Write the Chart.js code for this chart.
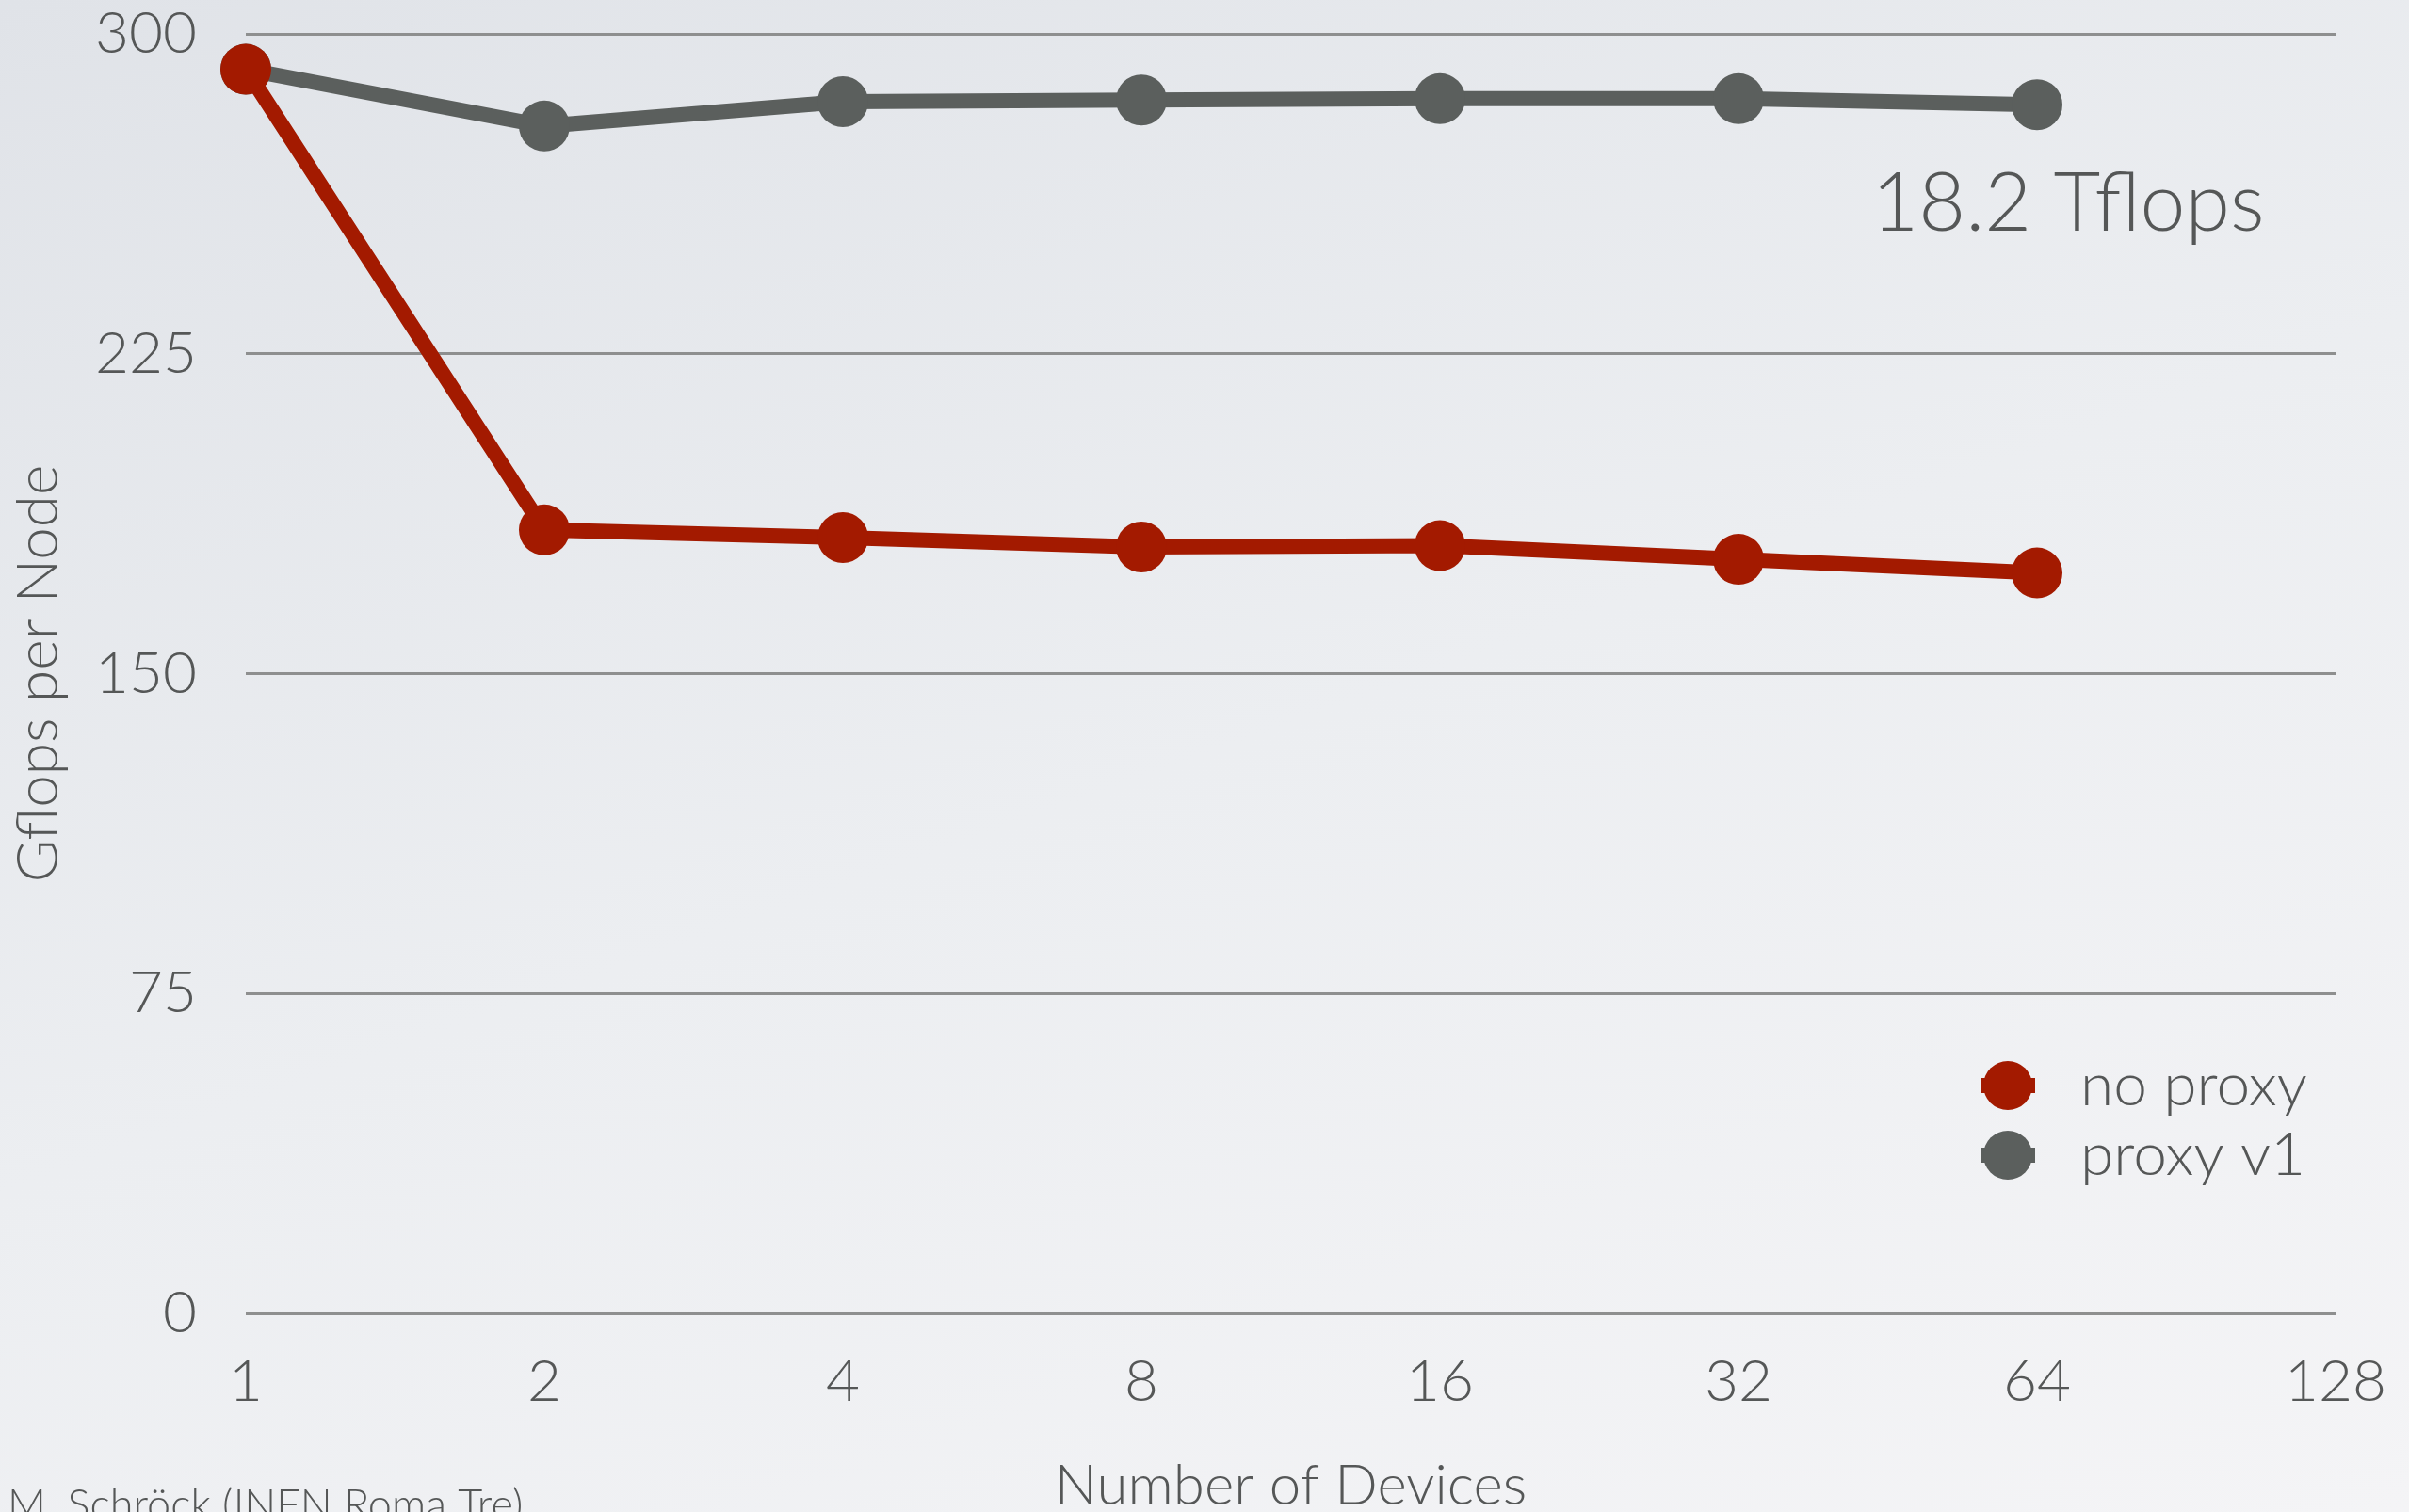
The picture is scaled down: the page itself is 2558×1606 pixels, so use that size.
<!DOCTYPE html>
<html>
<head>
<meta charset="utf-8">
<script src="https://cdn.jsdelivr.net/npm/chart.js@4.4.1/dist/chart.umd.min.js"></script>
<style>
    html, body {
        margin: 0;
        padding: 0;
        width: 2558px;
        height: 1606px;
        overflow: hidden;
        background: linear-gradient(160deg, #e0e3e8 0%, #eceef1 50%, #f4f4f6 100%);
    }
    #wrap {
        position: relative;
        width: 2558px;
        height: 1606px;
    }
</style>
</head>
<body>
<div id="wrap"><canvas id="perfChart" width="2558" height="1606"></canvas></div>
<script>
const devices = ["1", "2", "4", "8", "16", "32", "64", "128"];
const noProxy = [291.7, 183.7, 181.9, 179.7, 180.0, 176.8, 173.6];
const proxyV1 = [291.7, 278.4, 284.1, 284.5, 284.8, 284.8, 283.4];
const yTicks = [0, 75, 150, 225, 300];
const seriesNames = ["no proxy", "proxy v1"];
const seriesColors = ["#a31a00", "#5b5f5d"];

const FONT = "Lato, 'Open Sans', 'DejaVu Sans', sans-serif";
const TEXT_COLOR = "#555757";

// text that is not tied to the data: annotation, legend, footer
const extrasPlugin = {
    id: "extras",
    afterDraw(chart) {
        const ctx = chart.ctx;
        ctx.save();
        ctx.fillStyle = TEXT_COLOR;

        ctx.font = "300 86px " + FONT;
        ctx.textAlign = "center";
        ctx.textBaseline = "alphabetic";
        ctx.fillText("18.2 Tflops", 2196, 245);

        // legend
        const rows = [1153, 1227];
        chart.data.datasets.forEach((ds, i) => {
            const y = rows[i];
            ctx.strokeStyle = ds.borderColor;
            ctx.lineWidth = 16;
            ctx.beginPath();
            ctx.moveTo(2104, y);
            ctx.lineTo(2161, y);
            ctx.stroke();
            ctx.fillStyle = ds.borderColor;
            ctx.beginPath();
            ctx.arc(2132, y, 26, 0, Math.PI * 2);
            ctx.fill();
            ctx.fillStyle = TEXT_COLOR;
            ctx.font = "300 64px " + FONT;
            ctx.textAlign = "left";
            ctx.textBaseline = "middle";
            ctx.fillText(ds.label, 2209, y);
        });

        ctx.font = "300 45px " + FONT;
        ctx.textAlign = "left";
        ctx.textBaseline = "alphabetic";
        ctx.fillText("M. Schröck (INFN Roma Tre)", 8, 1614);
        ctx.restore();
    }
};

function makeDataset(label, data, color) {
    return {
        label: label,
        data: data,
        borderColor: color,
        backgroundColor: color,
        pointBackgroundColor: color,
        pointBorderWidth: 0,
        pointRadius: 27,
        borderWidth: 16,
        tension: 0,
        fill: false
    };
}

const ctx = document.getElementById("perfChart").getContext("2d");

new Chart(ctx, {
    type: "line",
    data: {
        labels: devices,
        datasets: [
            makeDataset(seriesNames[0], noProxy, seriesColors[0]),
            makeDataset(seriesNames[1], proxyV1, seriesColors[1])
        ]
    },
    options: {
        responsive: false,
        animation: false,
        events: [],
        layout: {
            padding: { top: 36, right: 78, bottom: 0, left: 0 }
        },
        plugins: {
            legend: { display: false },
            tooltip: { enabled: false }
        },
        scales: {
            x: {
                type: "category",
                offset: false,
                grid: { display: false, drawTicks: false },
                border: { display: false },
                ticks: {
                    color: TEXT_COLOR,
                    font: { family: FONT, size: 62, weight: "300" },
                    padding: 36,
                    maxRotation: 0,
                    autoSkip: false
                },
                title: {
                    display: true,
                    text: "Number of Devices",
                    color: TEXT_COLOR,
                    font: { family: FONT, size: 60, weight: "300", lineHeight: 0.9 },
                    padding: { top: 0, bottom: 0 }
                },
                afterFit(scale) {
                    scale.height = 211;
                    scale.paddingLeft = 0;
                    scale.paddingRight = 0;
                }
            },
            y: {
                min: 0,
                max: 300,
                afterBuildTicks(scale) {
                    scale.ticks = yTicks.map(v => ({ value: v }));
                },
                grid: {
                    color: "#8e8f8f",
                    lineWidth: 3,
                    drawTicks: false
                },
                border: { display: false },
                ticks: {
                    color: TEXT_COLOR,
                    font: { family: FONT, size: 62, weight: "300" },
                    padding: 52
                },
                title: {
                    display: true,
                    text: "Gflops per Node",
                    color: TEXT_COLOR,
                    font: { family: FONT, size: 62, weight: "300" },
                    padding: { top: 4, bottom: 0 }
                },
                afterFit(scale) {
                    scale.width = 261;
                    scale.paddingTop = 0;
                    scale.paddingBottom = 0;
                }
            }
        }
    },
    plugins: [extrasPlugin]
});
</script>
</body>
</html>
